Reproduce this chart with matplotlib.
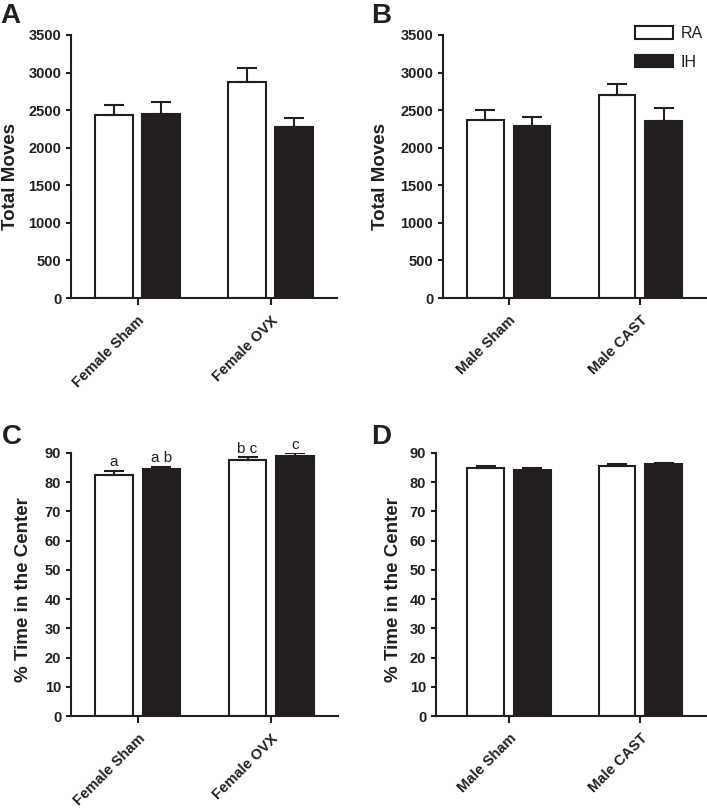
import matplotlib
matplotlib.use("Agg")
import matplotlib.pyplot as plt
import numpy as np

plt.rcParams["font.family"] = ["Liberation Sans", "DejaVu Sans"]

INK = "#231f20"

# panel A / B: total moves
groups_a = ["Female Sham", "Female OVX"]
moves_ra_a = [2435, 2880]
moves_ra_a_sem = [130, 180]
moves_ih_a = [2450, 2270]
moves_ih_a_sem = [160, 130]

groups_b = ["Male Sham", "Male CAST"]
moves_ra_b = [2370, 2700]
moves_ra_b_sem = [128, 146]
moves_ih_b = [2285, 2355]
moves_ih_b_sem = [128, 178]

# panel C / D: % time in the center
center_ra_c = [82.6, 87.5]
center_ra_c_sem = [1.3, 1.0]
center_ih_c = [84.5, 89.0]
center_ih_c_sem = [0.8, 0.9]
letters_ra_c = ["a", "b c"]
letters_ih_c = ["a b", "c"]

center_ra_d = [85.0, 85.4]
center_ra_d_sem = [0.7, 0.7]
center_ih_d = [84.3, 86.1]
center_ih_d_sem = [0.5, 0.6]

W, H = 707, 809
fig = plt.figure(figsize=(W / 100, H / 100), dpi=100)


def px_axes(left, top, right, bottom):
    return fig.add_axes([left / W, 1 - bottom / H, (right - left) / W, (bottom - top) / H])


def bar_panel(ax, groups, ra, ra_sem, ih, ih_sem, ymax, ystep, xleft=-0.5):
    x = np.arange(len(groups))
    off, width = 0.177, 0.28
    b_ra = ax.bar(x - off, ra, width, color="white", edgecolor=INK, linewidth=1.5, zorder=2, label="RA")
    b_ih = ax.bar(x + off, ih, width, color=INK, edgecolor=INK, linewidth=1.5, zorder=2, label="IH")
    for xs, vals, sem in [(x - off, ra, ra_sem), (x + off, ih, ih_sem)]:
        ax.errorbar(xs, vals, yerr=[np.zeros(len(vals)), sem], fmt="none", ecolor=INK,
                    elinewidth=1.5, capsize=7, capthick=1.5, zorder=3)
    ax.set_xlim(xleft, 1.5)
    ax.set_ylim(0, ymax)
    ax.set_yticks(np.arange(0, ymax + 1, ystep))
    ax.set_xticks(x)
    ax.set_xticklabels(groups, rotation=45, ha="right", rotation_mode="anchor",
                       fontsize=10.5, fontweight="bold", color=INK)
    for lab in ax.get_yticklabels():
        lab.set_fontweight("bold")
    ax.tick_params(axis="y", labelsize=10.5, width=1.5, length=3.6, pad=3.5, colors=INK)
    ax.tick_params(axis="x", width=1.5, length=5, pad=6, colors=INK)
    for s in ["top", "right"]:
        ax.spines[s].set_visible(False)
    for s in ["left", "bottom"]:
        ax.spines[s].set_linewidth(1.5)
        ax.spines[s].set_color(INK)
    return b_ra, b_ih


ax_a = px_axes(71, 35, 337, 298)
bar_panel(ax_a, groups_a, moves_ra_a, moves_ra_a_sem, moves_ih_a, moves_ih_a_sem, 3500, 500)

ax_b = px_axes(443, 35, 706, 298)
b_ra, b_ih = bar_panel(ax_b, groups_b, moves_ra_b, moves_ra_b_sem, moves_ih_b, moves_ih_b_sem, 3500, 500)
ax_b.legend(handles=[b_ra, b_ih], labels=["RA", "IH"], loc="upper left",
            bbox_to_anchor=(635 / W, 1 - 26 / H), bbox_transform=fig.transFigure,
            frameon=False, fontsize=11.5, handlelength=2.4, handleheight=0.85,
            labelspacing=0.85, handletextpad=0.45, borderpad=0, borderaxespad=0,
            labelcolor=INK)

ax_c = px_axes(71, 453, 338, 716)
bar_panel(ax_c, groups_a, center_ra_c, center_ra_c_sem, center_ih_c, center_ih_c_sem, 90, 10)
xc = np.arange(len(groups_a))
for xs, vals, sem, labs in [(xc - 0.177, center_ra_c, center_ra_c_sem, letters_ra_c),
                            (xc + 0.177, center_ih_c, center_ih_c_sem, letters_ih_c)]:
    for xi, v, s, t in zip(xs, vals, sem, labs):
        ax_c.text(xi, v + s + 0.6, t, ha="center", va="bottom", fontsize=11, color=INK)

ax_d = px_axes(436, 453, 706, 716)
bar_panel(ax_d, groups_b, center_ra_d, center_ra_d_sem, center_ih_d, center_ih_d_sem, 90, 10, xleft=-0.555)

# y labels
label_kw = dict(rotation=90, ha="center", va="center", fontsize=13.5, fontweight="bold", color=INK)
fig.text(11 / W, 1 - 176 / H, "Total Moves", **label_kw)
fig.text(381 / W, 1 - 176 / H, "Total Moves", **label_kw)
fig.text(24 / W, 1 - 590 / H, "% Time in the Center", **label_kw)
fig.text(393 / W, 1 - 590 / H, "% Time in the Center", **label_kw)

# panel letters
letter_kw = dict(ha="left", va="center", fontsize=20, fontweight="bold", color=INK)
fig.text(0 / W, 1 - 16 / H, "A", **letter_kw)
fig.text(371 / W, 1 - 16 / H, "B", **letter_kw)
fig.text(2 / W, 1 - 437 / H, "C", **letter_kw)
fig.text(371 / W, 1 - 437 / H, "D", **letter_kw)

fig.savefig("out.png", dpi=100)
